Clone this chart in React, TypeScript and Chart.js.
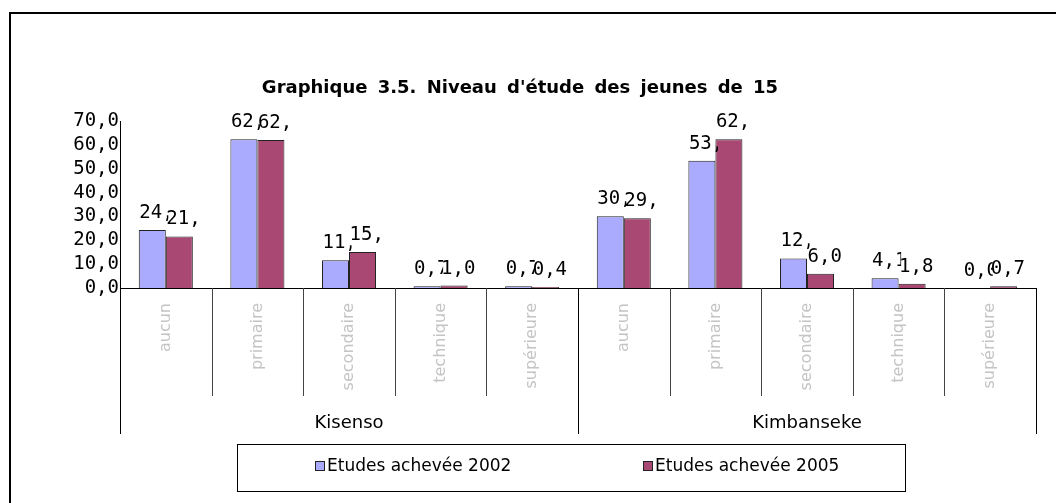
import React, { useEffect, useRef } from "react";
import { Chart, registerables } from "chart.js";

Chart.register(...registerables);

const titleText = "Graphique 3.5. Niveau d'étude des jeunes de 15";
const groups = ["Kisenso", "Kimbanseke"];
const levels = ["aucun", "primaire", "secondaire", "technique", "supérieure"];
const categories = [...levels, ...levels];
const seriesNames = ["Etudes achevée 2002", "Etudes achevée 2005"];
const values2002 = [24.3, 62.3, 11.6, 0.7, 0.7, 30.1, 53.3, 12.4, 4.1, 0.0];
const values2005 = [21.6, 62.0, 15.1, 1.0, 0.4, 29.2, 62.4, 6.0, 1.8, 0.7];
const yMin = 0;
const yMax = 70;
const yStep = 10;

const BLUE = "rgb(170,170,255)";
const RED = "rgb(168,72,115)";
const MONO = "'DejaVu Sans Mono', monospace";
const SANS = "'DejaVu Sans', sans-serif";

const fmt = (v: number) => v.toFixed(1).replace(".", ",");

const decorPlugin = {
  id: "decor",
  afterDraw(chart: any) {
    const ctx = chart.ctx as CanvasRenderingContext2D;
    const area = chart.chartArea;
    const n = categories.length;
    const cw = (area.right - area.left) / n;
    const axisY = area.bottom;
    ctx.save();

    // outer frame
    ctx.strokeStyle = "#000";
    ctx.lineWidth = 2;
    ctx.strokeRect(10, 13, 1200, 700);

    // category dividers
    ctx.lineWidth = 1;
    for (let i = 0; i <= n; i++) {
      const x = Math.round(area.left + i * cw) + 0.5;
      const isGroup = i % levels.length === 0;
      ctx.strokeStyle = isGroup ? "#000" : "#444";
      ctx.beginPath();
      ctx.moveTo(x, axisY);
      ctx.lineTo(x, axisY + (isGroup ? 146 : 108));
      ctx.stroke();
    }

    // group labels
    ctx.fillStyle = "#000";
    ctx.font = `18px ${SANS}`;
    ctx.textAlign = "center";
    ctx.textBaseline = "middle";
    groups.forEach((g, gi) => {
      const x0 = area.left + gi * levels.length * cw;
      const x1 = x0 + levels.length * cw;
      ctx.fillText(g, (x0 + x1) / 2, axisY + 135);
    });

    // data labels
    ctx.font = `19px ${MONO}`;
    ctx.textAlign = "left";
    const metas = [chart.getDatasetMeta(0), chart.getDatasetMeta(1)];
    const starts: number[][] = metas.map((m: any) => m.data.map((el: any) => el.x - 13));
    metas.forEach((meta: any, d: number) => {
      meta.data.forEach((el: any, i: number) => {
        const v = chart.data.datasets[d].data[i] as number;
        const sx = starts[d][i];
        let clipR = sx + 35;
        if (d === 0) clipR = Math.min(clipR, starts[1][i] + 2);
        else if (i + 1 < n) clipR = Math.min(clipR, starts[0][i + 1] + 2);
        const cy = el.y - 17;
        ctx.save();
        ctx.beginPath();
        ctx.rect(sx - 3, cy - 14, clipR - sx + 3, 28);
        ctx.clip();
        ctx.fillStyle = "#000";
        ctx.fillText(fmt(v), sx, cy);
        ctx.restore();
      });
    });

    // title
    ctx.font = `bold 18px ${SANS}`;
    ctx.textAlign = "center";
    ctx.fillStyle = "#000";
    (ctx as any).wordSpacing = "4px";
    ctx.fillText(titleText, 520, 88);
    (ctx as any).wordSpacing = "0px";

    // legend
    ctx.strokeStyle = "#000";
    ctx.lineWidth = 1;
    ctx.strokeRect(237.5, 444.5, 668, 47);
    ctx.font = `17px ${SANS}`;
    ctx.textAlign = "left";
    const legendX = [315, 643];
    [BLUE, RED].forEach((c, k) => {
      ctx.fillStyle = c;
      ctx.fillRect(legendX[k], 461, 10, 10);
      ctx.strokeStyle = "#222";
      ctx.strokeRect(legendX[k] + 0.5, 461.5, 9, 9);
      ctx.fillStyle = "#000";
      ctx.fillText(seriesNames[k], legendX[k] + 12, 467);
    });

    ctx.restore();
  },
};

export default function App() {
  const canvasRef = useRef<HTMLCanvasElement | null>(null);

  useEffect(() => {
    document.body.style.margin = "0";
    const canvas = canvasRef.current!;
    const chart = new Chart(canvas, {
      type: "bar",
      data: {
        labels: categories,
        datasets: [
          {
            label: seriesNames[0],
            data: values2002,
            backgroundColor: BLUE,
            borderColor: "#222",
            borderWidth: 1,
            categoryPercentage: 0.59,
            barPercentage: 1,
          },
          {
            label: seriesNames[1],
            data: values2005,
            backgroundColor: RED,
            borderColor: "#222",
            borderWidth: 1,
            categoryPercentage: 0.59,
            barPercentage: 1,
          },
        ],
      },
      options: {
        animation: false,
        responsive: false,
        maintainAspectRatio: false,
        layout: { padding: { top: 121, right: 20, left: 0, bottom: 0 } },
        plugins: {
          legend: { display: false },
          title: { display: false },
          tooltip: { enabled: false },
        },
        scales: {
          x: {
            offset: true,
            grid: { display: false, drawTicks: false },
            border: { display: true, color: "#000", width: 1 },
            ticks: {
              autoSkip: false,
              minRotation: 90,
              maxRotation: 90,
              padding: 15,
              color: "#c4c4c4",
              font: { family: SANS, size: 16 },
            },
            afterFit: (s: any) => {
              s.height = 215;
            },
          },
          y: {
            min: yMin,
            max: yMax,
            grid: { display: false, drawTicks: false },
            border: { display: true, color: "#000", width: 1 },
            ticks: {
              stepSize: yStep,
              autoSkip: false,
              padding: 1,
              color: "#000",
              font: { family: MONO, size: 19 },
              callback: (v: any) => fmt(Number(v)),
            },
            afterFit: (s: any) => {
              s.width = 120;
            },
          },
        },
      },
      plugins: [decorPlugin],
    });
    return () => chart.destroy();
  }, []);

  return <canvas ref={canvasRef} width={1056} height={503} style={{ display: "block" }} />;
}
